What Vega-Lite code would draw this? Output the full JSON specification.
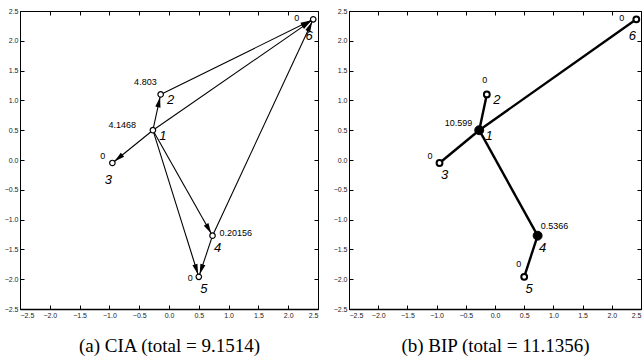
{
  "$schema": "https://vega.github.io/schema/vega-lite/v6.json",
  "padding": {"left": 3, "top": 6, "right": 0, "bottom": 0},
  "background": "white",
  "spacing": 13,
  "datasets": {
    "ciaNodes": [
      {"id": "1", "x": -0.27, "y": 0.5, "val": "4.1468", "vp": "D", "np": "R"},
      {"id": "2", "x": -0.14, "y": 1.1, "val": "4.803", "vp": "E", "np": "R"},
      {"id": "3", "x": -0.95, "y": -0.05, "val": "0", "vp": "A", "np": "BL"},
      {"id": "4", "x": 0.73, "y": -1.27, "val": "0.20156", "vp": "H", "np": "B"},
      {"id": "5", "x": 0.5, "y": -1.96, "val": "0", "vp": "B", "np": "B"},
      {"id": "6", "x": 2.42, "y": 2.36, "val": "0", "vp": "C", "np": "BL"}
    ],
    "bipNodes": [
      {"id": "1", "x": -0.27, "y": 0.5, "val": "10.599", "vp": "A", "np": "R", "hub": true},
      {"id": "2", "x": -0.14, "y": 1.1, "val": "0", "vp": "G", "np": "R", "hub": false},
      {"id": "3", "x": -0.95, "y": -0.05, "val": "0", "vp": "A", "np": "B", "hub": false},
      {"id": "4", "x": 0.73, "y": -1.27, "val": "0.5366", "vp": "I", "np": "B", "hub": true},
      {"id": "5", "x": 0.5, "y": -1.96, "val": "0", "vp": "E", "np": "B", "hub": false},
      {"id": "6", "x": 2.42, "y": 2.36, "val": "0", "vp": "C", "np": "BL", "hub": false}
    ],
    "ciaEdges": [
      {"s": "1", "t": "2", "x": -0.27, "y": 0.5, "x2": -0.14, "y2": 1.1},
      {"s": "1", "t": "3", "x": -0.27, "y": 0.5, "x2": -0.95, "y2": -0.05},
      {"s": "1", "t": "4", "x": -0.27, "y": 0.5, "x2": 0.73, "y2": -1.27},
      {"s": "1", "t": "5", "x": -0.27, "y": 0.5, "x2": 0.5, "y2": -1.96},
      {"s": "1", "t": "6", "x": -0.27, "y": 0.5, "x2": 2.42, "y2": 2.36},
      {"s": "2", "t": "6", "x": -0.14, "y": 1.1, "x2": 2.42, "y2": 2.36},
      {"s": "4", "t": "6", "x": 0.73, "y": -1.27, "x2": 2.42, "y2": 2.36},
      {"s": "4", "t": "5", "x": 0.73, "y": -1.27, "x2": 0.5, "y2": -1.96}
    ],
    "bipEdges": [
      {"s": "1", "t": "2", "x": -0.27, "y": 0.5, "x2": -0.14, "y2": 1.1},
      {"s": "1", "t": "3", "x": -0.27, "y": 0.5, "x2": -0.95, "y2": -0.05},
      {"s": "1", "t": "6", "x": -0.27, "y": 0.5, "x2": 2.42, "y2": 2.36},
      {"s": "1", "t": "4", "x": -0.27, "y": 0.5, "x2": 0.73, "y2": -1.27},
      {"s": "4", "t": "5", "x": 0.73, "y": -1.27, "x2": 0.5, "y2": -1.96}
    ]
  },
  "hconcat": [
    {
      "width": 298,
      "height": 298,
      "data": {"name": "ciaNodes"},
      "encoding": {
        "x": {"field": "x", "type": "quantitative", "scale": {"domain": [-2.5, 2.5], "nice": false, "zero": false}, "axis": null},
        "y": {"field": "y", "type": "quantitative", "scale": {"domain": [-2.5, 2.5], "nice": false, "zero": false}, "axis": null}
      },
      "layer": [
        {
          "mark": {"type": "point", "opacity": 0},
          "encoding": {
            "x": {"field": "x", "type": "quantitative", "scale": {"domain": [-2.5, 2.5], "nice": false, "zero": false},
              "axis": {"orient": "bottom", "values": [-2.5, -2, -1.5, -1, -0.5, 0, 0.5, 1, 1.5, 2, 2.5], "title": "(a) CIA (total = 9.1514)", "titleFont": "Liberation Serif", "titleFontSize": 19, "titleFontWeight": "normal", "titleColor": "black", "titlePadding": 18, "domainWidth": 1.5}},
            "y": {"field": "y", "type": "quantitative", "scale": {"domain": [-2.5, 2.5], "nice": false, "zero": false},
              "axis": {"orient": "left", "values": [-2.5, -2, -1.5, -1, -0.5, 0, 0.5, 1, 1.5, 2, 2.5], "title": null}}
          }
        },
        {
          "mark": {"type": "point", "opacity": 0},
          "encoding": {
            "x": {"field": "x", "type": "quantitative", "scale": {"domain": [-2.5, 2.5], "nice": false, "zero": false},
              "axis": {"orient": "top", "values": [-2.5, -2, -1.5, -1, -0.5, 0, 0.5, 1, 1.5, 2, 2.5], "labels": false, "domain": false, "title": null}},
            "y": {"field": "y", "type": "quantitative", "scale": {"domain": [-2.5, 2.5], "nice": false, "zero": false},
              "axis": {"orient": "right", "values": [-2.5, -2, -1.5, -1, -0.5, 0, 0.5, 1, 1.5, 2, 2.5], "labels": false, "domain": false, "title": null}}
          }
        },
        {
          "data": {"name": "ciaEdges"},
          "mark": {"type": "rule", "color": "black", "strokeWidth": 1.1},
          "encoding": {"x2": {"field": "x2"}, "y2": {"field": "y2"}}
        },
        {
          "data": {"name": "ciaEdges"},
          "transform": [
            {"calculate": "atan2(datum.x2 - datum.x, datum.y2 - datum.y)", "as": "a"},
            {"calculate": "datum.a * 180 / PI", "as": "ang"},
            {"calculate": "datum.x2 - 0.13 * sin(datum.a)", "as": "ax"},
            {"calculate": "datum.y2 - 0.13 * cos(datum.a)", "as": "ay"}
          ],
          "mark": {"type": "point", "shape": "M0,-1L0.5,1L-0.5,1Z", "filled": true, "color": "black", "opacity": 1, "size": 110},
          "encoding": {
            "x": {"field": "ax", "type": "quantitative", "scale": {"domain": [-2.5, 2.5], "nice": false, "zero": false}, "axis": null},
            "y": {"field": "ay", "type": "quantitative", "scale": {"domain": [-2.5, 2.5], "nice": false, "zero": false}, "axis": null},
            "angle": {"field": "ang", "type": "quantitative", "scale": null}
          }
        },
        {
          "mark": {"type": "point", "shape": "circle", "filled": true, "fill": "white", "stroke": "black", "strokeWidth": 1.2, "opacity": 1, "size": 30}
        },
        {"transform": [{"filter": "datum.vp == 'A'"}], "mark": {"type": "text", "align": "right", "baseline": "middle", "dx": -7, "dy": -7, "fontSize": 9}, "encoding": {"text": {"field": "val"}}},
        {"transform": [{"filter": "datum.vp == 'B'"}], "mark": {"type": "text", "align": "right", "baseline": "middle", "dx": -6, "dy": 1, "fontSize": 9}, "encoding": {"text": {"field": "val"}}},
        {"transform": [{"filter": "datum.vp == 'C'"}], "mark": {"type": "text", "align": "right", "baseline": "middle", "dx": -14, "dy": -1, "fontSize": 9}, "encoding": {"text": {"field": "val"}}},
        {"transform": [{"filter": "datum.vp == 'D'"}], "mark": {"type": "text", "align": "right", "baseline": "middle", "dx": -17, "dy": -5, "fontSize": 9}, "encoding": {"text": {"field": "val"}}},
        {"transform": [{"filter": "datum.vp == 'E'"}], "mark": {"type": "text", "align": "right", "baseline": "middle", "dx": -4, "dy": -12, "fontSize": 9}, "encoding": {"text": {"field": "val"}}},
        {"transform": [{"filter": "datum.vp == 'H'"}], "mark": {"type": "text", "align": "left", "baseline": "middle", "dx": 7, "dy": -3, "fontSize": 9}, "encoding": {"text": {"field": "val"}}},
        {"transform": [{"filter": "datum.np == 'R'"}], "mark": {"type": "text", "align": "center", "baseline": "middle", "dx": 10, "dy": 6, "fontSize": 13, "fontStyle": "italic"}, "encoding": {"text": {"field": "id"}}},
        {"transform": [{"filter": "datum.np == 'B'"}], "mark": {"type": "text", "align": "center", "baseline": "middle", "dx": 5, "dy": 12, "fontSize": 13, "fontStyle": "italic"}, "encoding": {"text": {"field": "id"}}},
        {"transform": [{"filter": "datum.np == 'BL'"}], "mark": {"type": "text", "align": "center", "baseline": "middle", "dx": -4, "dy": 17, "fontSize": 13, "fontStyle": "italic"}, "encoding": {"text": {"field": "id"}}}
      ],
      "resolve": {"axis": {"x": "independent", "y": "independent"}}
    },
    {
      "width": 292,
      "height": 298,
      "data": {"name": "bipNodes"},
      "encoding": {
        "x": {"field": "x", "type": "quantitative", "scale": {"domain": [-2.5, 2.5], "nice": false, "zero": false}, "axis": null},
        "y": {"field": "y", "type": "quantitative", "scale": {"domain": [-2.5, 2.5], "nice": false, "zero": false}, "axis": null}
      },
      "layer": [
        {
          "mark": {"type": "point", "opacity": 0},
          "encoding": {
            "x": {"field": "x", "type": "quantitative", "scale": {"domain": [-2.5, 2.5], "nice": false, "zero": false},
              "axis": {"orient": "bottom", "values": [-2.5, -2, -1.5, -1, -0.5, 0, 0.5, 1, 1.5, 2, 2.5], "title": "(b) BIP (total = 11.1356)", "titleFont": "Liberation Serif", "titleFontSize": 19, "titleFontWeight": "normal", "titleColor": "black", "titlePadding": 18, "domainWidth": 1.5}},
            "y": {"field": "y", "type": "quantitative", "scale": {"domain": [-2.5, 2.5], "nice": false, "zero": false},
              "axis": {"orient": "left", "values": [-2.5, -2, -1.5, -1, -0.5, 0, 0.5, 1, 1.5, 2, 2.5], "title": null}}
          }
        },
        {
          "mark": {"type": "point", "opacity": 0},
          "encoding": {
            "x": {"field": "x", "type": "quantitative", "scale": {"domain": [-2.5, 2.5], "nice": false, "zero": false},
              "axis": {"orient": "top", "values": [-2.5, -2, -1.5, -1, -0.5, 0, 0.5, 1, 1.5, 2, 2.5], "labels": false, "domain": false, "title": null}},
            "y": {"field": "y", "type": "quantitative", "scale": {"domain": [-2.5, 2.5], "nice": false, "zero": false},
              "axis": {"orient": "right", "values": [-2.5, -2, -1.5, -1, -0.5, 0, 0.5, 1, 1.5, 2, 2.5], "labels": false, "domain": false, "title": null}}
          }
        },
        {
          "data": {"name": "bipEdges"},
          "mark": {"type": "rule", "color": "black", "strokeWidth": 2.4},
          "encoding": {"x2": {"field": "x2"}, "y2": {"field": "y2"}}
        },
        {
          "transform": [{"filter": "!datum.hub"}],
          "mark": {"type": "point", "shape": "circle", "filled": true, "fill": "white", "stroke": "black", "strokeWidth": 2, "opacity": 1, "size": 34}
        },
        {
          "transform": [{"filter": "datum.hub"}],
          "mark": {"type": "point", "shape": "circle", "filled": true, "fill": "black", "stroke": "black", "strokeWidth": 1, "opacity": 1, "size": 80}
        },
        {"transform": [{"filter": "datum.vp == 'A'"}], "mark": {"type": "text", "align": "right", "baseline": "middle", "dx": -7, "dy": -7, "fontSize": 9}, "encoding": {"text": {"field": "val"}}},
        {"transform": [{"filter": "datum.vp == 'C'"}], "mark": {"type": "text", "align": "right", "baseline": "middle", "dx": -12, "dy": -1, "fontSize": 9}, "encoding": {"text": {"field": "val"}}},
        {"transform": [{"filter": "datum.vp == 'E'"}], "mark": {"type": "text", "align": "right", "baseline": "middle", "dx": -3, "dy": -13, "fontSize": 9}, "encoding": {"text": {"field": "val"}}},
        {"transform": [{"filter": "datum.vp == 'G'"}], "mark": {"type": "text", "align": "center", "baseline": "middle", "dx": -2, "dy": -14, "fontSize": 9}, "encoding": {"text": {"field": "val"}}},
        {"transform": [{"filter": "datum.vp == 'I'"}], "mark": {"type": "text", "align": "left", "baseline": "middle", "dx": 3, "dy": -10, "fontSize": 9}, "encoding": {"text": {"field": "val"}}},
        {"transform": [{"filter": "datum.np == 'R'"}], "mark": {"type": "text", "align": "center", "baseline": "middle", "dx": 10, "dy": 6, "fontSize": 13, "fontStyle": "italic"}, "encoding": {"text": {"field": "id"}}},
        {"transform": [{"filter": "datum.np == 'B'"}], "mark": {"type": "text", "align": "center", "baseline": "middle", "dx": 5, "dy": 12, "fontSize": 13, "fontStyle": "italic"}, "encoding": {"text": {"field": "id"}}},
        {"transform": [{"filter": "datum.np == 'BL'"}], "mark": {"type": "text", "align": "center", "baseline": "middle", "dx": -4, "dy": 17, "fontSize": 13, "fontStyle": "italic"}, "encoding": {"text": {"field": "id"}}}
      ],
      "resolve": {"axis": {"x": "independent", "y": "independent"}}
    }
  ],
  "config": {
    "view": {"stroke": "black", "strokeWidth": 1},
    "axis": {"grid": false, "labelFont": "Liberation Sans", "labelFontSize": 7, "labelColor": "#222", "domainColor": "black", "tickColor": "black", "tickSize": -4, "labelPadding": 6, "domainWidth": 1, "tickWidth": 1},
    "text": {"font": "Liberation Sans", "color": "black"}
  }
}
